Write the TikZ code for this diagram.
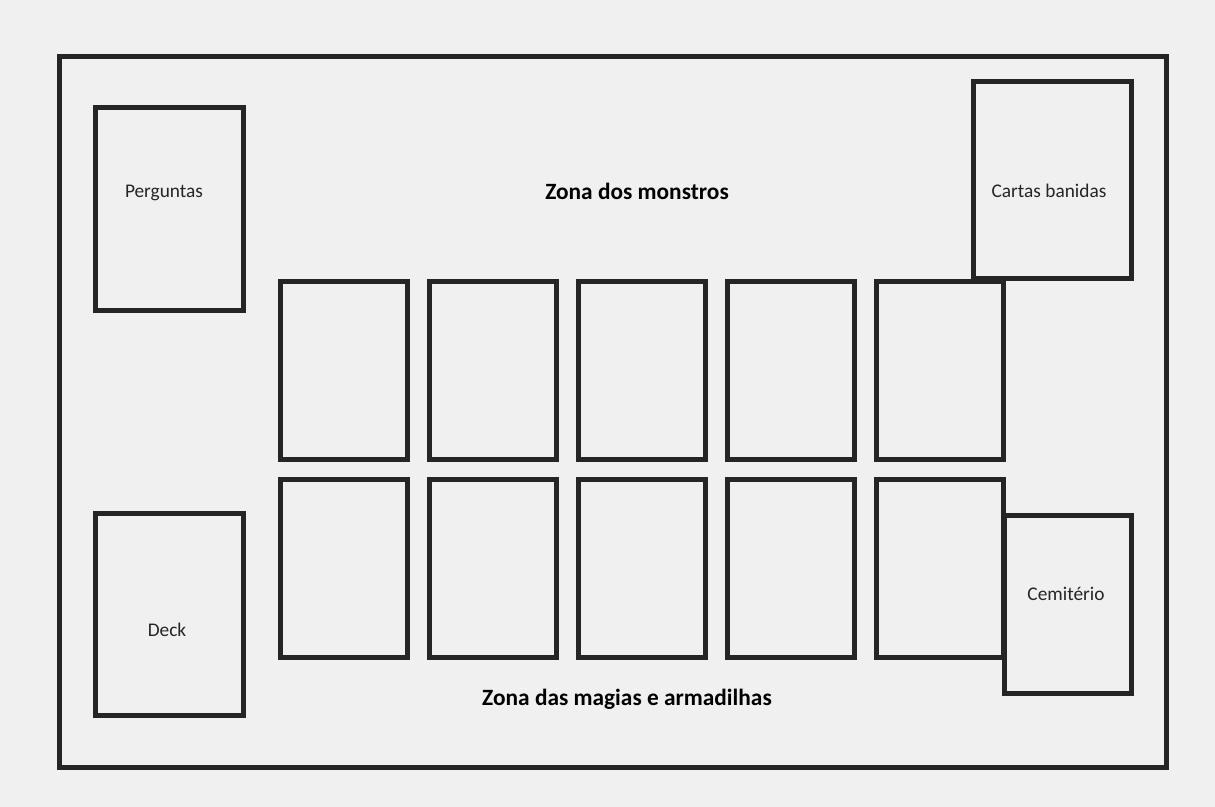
\documentclass[tikz,border=0pt]{standalone}
\usepackage{fontspec}
\setmainfont{Carlito}
\definecolor{papel}{HTML}{F0F0F0}
\definecolor{borda}{HTML}{252525}
\tikzset{
  carta/.style={draw=borda,rectangle,inner sep=0pt,outer sep=0pt,line width=3.5pt},
  cartatxt/.style={font=\fontsize{13.75}{16}\selectfont,text=borda},
  zona/.style={font=\fontsize{16.6}{20}\selectfont\bfseries,text=black}
}

\begin{document}
\begin{tikzpicture}[x=0.025cm,y=-0.025cm,line width=3.5pt]
 \fill[papel] (0,0) rectangle (1215,807);
 \useasboundingbox (0,0) rectangle (1215,807);
 % campo
 \node[carta,minimum width=27.675cm,minimum height=17.763cm] (campo) at (613,411.75) {};
 % zonas dos monstros e das magias
 \foreach \i/\x in {1/344,2/493,3/642,4/791,5/940}{%
   \node[carta,minimum width=3.175cm,minimum height=4.45cm] (m\i) at (\x,370.5) {};
   \node[carta,minimum width=3.175cm,minimum height=4.45cm] (s\i) at (\x,568.5) {};
 }
 % pilhas laterais
 \node[carta,minimum width=3.7cm,minimum height=5.075cm] (perg) at (169.5,209) {};
 \node[carta,minimum width=3.7cm,minimum height=5.05cm] (deck) at (169.5,614.5) {};
 \node[carta,minimum width=3.95cm,minimum height=4.925cm] (banidas) at (1052.5,180) {};
 \node[carta,minimum width=3.175cm,minimum height=4.45cm] (cemit) at (1068,604.5) {};
 \node[cartatxt] (pergtxt) at (164,193) {Perguntas};
 \node[cartatxt] (decktxt) at (167,630) {Deck};
 \node[cartatxt] (banidastxt) at (1049,191) {Cartas banidas};
 \node[cartatxt] (cemittxt) at (1066,594) {Cemitério};
 \node[zona] (monstros) at (637,191) {Zona dos monstros};
 \node[zona] (magias) at (627,699) {Zona das magias e armadilhas};
\end{tikzpicture}
\end{document}
